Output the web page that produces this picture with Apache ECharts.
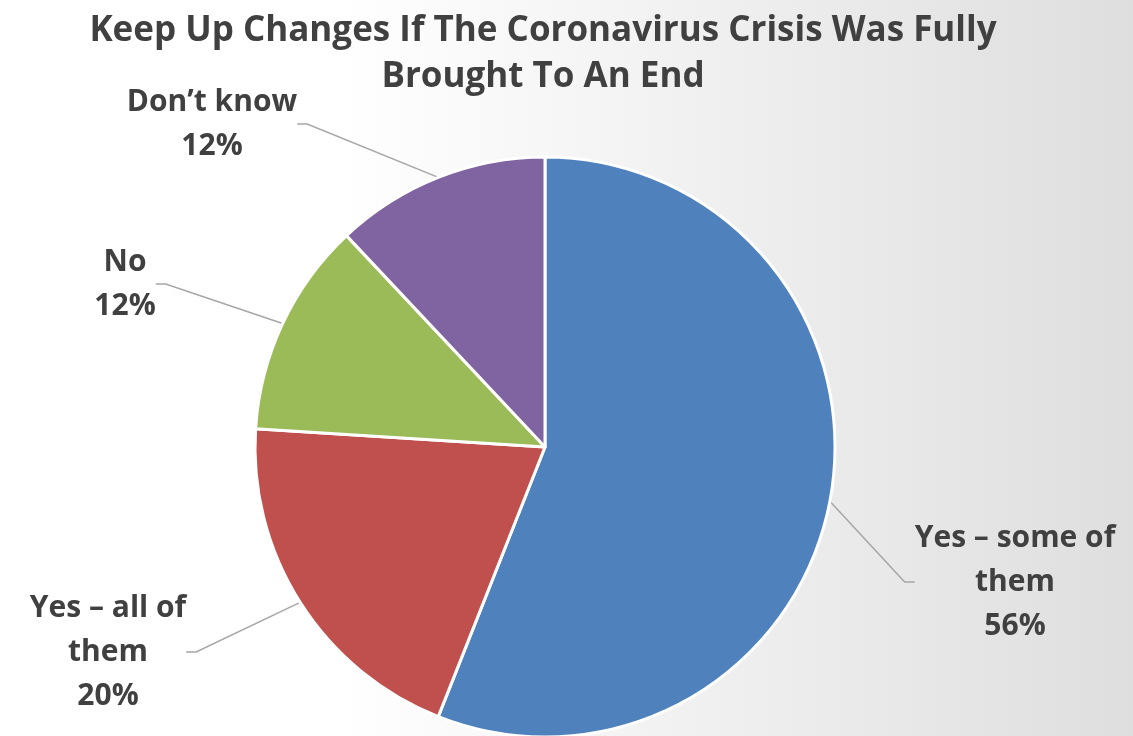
<!DOCTYPE html>
<html>
<head>
<meta charset="utf-8">
<script src="https://cdn.jsdelivr.net/npm/echarts@6/dist/echarts.min.js"></script>
<style>
  html, body { margin: 0; padding: 0; }
  #chart {
    width: 1133px; height: 736px;
    background: linear-gradient(90deg, #ffffff 0%, #ffffff 30%, #f1f1f1 60%, #dedede 100%);
  }
</style>
</head>
<body>
<div id="chart"></div>
<script>
// Survey answers and their shares (%)
const categories = ['Yes – some of\nthem', 'Yes – all of\nthem', 'No', 'Don’t know'];
const shares = [56, 20, 12, 12];
const sliceColors = ['#4F81BD', '#C0504D', '#9BBB59', '#8064A2'];

// Label anchor points (label centre), one per slice
const labelSpots = [
  { x: 1015, y: 582 },
  { x: 108, y: 652 },
  { x: 125, y: 284 },
  { x: 212, y: 124 }
];

const textColor = '#404040';
const fontFamily = '"Open Sans", Lato, sans-serif';

const chart = echarts.init(document.getElementById('chart'), null, { renderer: 'canvas' });

chart.setOption({
  backgroundColor: 'transparent',
  animation: false,
  title: {
    text: 'Keep Up Changes If The Coronavirus Crisis Was Fully\nBrought To An End',
    left: 538,
    textAlign: 'center',
    top: 3,
    textStyle: {
      fontFamily: fontFamily,
      fontWeight: 'bold',
      fontSize: 35,
      lineHeight: 46,
      color: textColor
    }
  },
  series: [{
    type: 'pie',
    center: [545, 447],
    radius: 290,
    startAngle: 90,
    clockwise: true,
    percentPrecision: 0,
    data: categories.map((name, i) => ({
      name: name,
      value: shares[i],
      itemStyle: { color: sliceColors[i] }
    })),
    itemStyle: { borderColor: '#ffffff', borderWidth: 3 },
    label: {
      show: true,
      formatter: '{b}\n{d}%',
      fontFamily: fontFamily,
      fontWeight: 'bold',
      fontSize: 30,
      lineHeight: 44,
      color: textColor,
      align: 'center'
    },
    labelLine: {
      show: true,
      length: 20,
      length2: 10,
      lineStyle: { color: '#a6a6a6', width: 1.5 }
    },
    labelLayout: function (params) {
      const p = labelSpots[params.dataIndex];
      return { x: p.x, y: p.y, align: 'center', verticalAlign: 'middle' };
    },
    emphasis: { disabled: true }
  }]
});
</script>
</body>
</html>
